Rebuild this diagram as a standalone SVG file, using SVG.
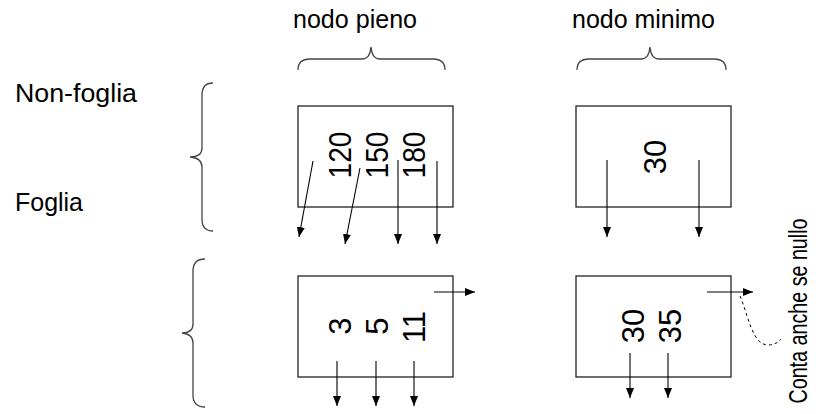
<svg xmlns="http://www.w3.org/2000/svg" width="816" height="414" viewBox="0 0 816 414">
  <style>
    .lbl { font-family: "Liberation Sans", Arial, sans-serif; font-size: 25px; fill: #000; }
    .key { font-family: "Liberation Sans", Arial, sans-serif; font-size: 31px; fill: #000; text-anchor: middle; }
    .note { font-family: "Liberation Sans", Arial, sans-serif; font-size: 25px; fill: #000; text-anchor: middle; }
    .box { fill: #fff; stroke: #222; stroke-width: 1.3; }
    .brace { fill: none; stroke: #444; stroke-width: 1.3; }
    .ptr { fill: none; stroke: #000; stroke-width: 1.1; marker-end: url(#head); }
    .dash { fill: none; stroke: #000; stroke-width: 1; stroke-dasharray: 3 3; }
  </style>
  <defs>
    <marker id="head" markerUnits="userSpaceOnUse" markerWidth="10" markerHeight="10" viewBox="0 0 10 8" refX="10" refY="4" orient="auto">
      <path d="M0,0 L10,4 L0,8 Z" fill="#000"/>
    </marker>
  </defs>

  <!-- column and row labels -->
  <g id="labels">
    <text class="lbl" x="293" y="28" textLength="124" lengthAdjust="spacingAndGlyphs">nodo pieno</text>
    <text class="lbl" x="572" y="28" textLength="143" lengthAdjust="spacingAndGlyphs">nodo minimo</text>
    <text class="lbl" x="15" y="102" textLength="122" lengthAdjust="spacingAndGlyphs">Non-foglia</text>
    <text class="lbl" x="15" y="211" textLength="68" lengthAdjust="spacingAndGlyphs">Foglia</text>
  </g>

  <!-- braces -->
  <g id="braces">
    <path class="brace" d="M298,70 Q298,59 310,59 L362,59 Q370,59 371,47 Q372,59 380,59 L433,59 Q445,59 445,70"/>
    <path class="brace" d="M577,70 Q577,59 589,59 L641,59 Q649,59 650,47 Q651,59 659,59 L714,59 Q726,59 726,70"/>
    <path class="brace" d="M213,83 Q202,83 202,95 L202,148 Q202,157 190,157 Q202,158 202,167 L202,219 Q202,231 213,231"/>
    <path class="brace" d="M205,259 Q193,259 193,271 L193,324 Q193,333 182,333 Q193,334 193,343 L193,395 Q193,407 205,407"/>
  </g>

  <!-- internal node, full -->
  <g id="node-full-internal">
    <rect class="box" x="298" y="106" width="155" height="101"/>
    <text class="key" transform="translate(351,155) rotate(-90)" textLength="47" lengthAdjust="spacingAndGlyphs">120</text>
    <text class="key" transform="translate(387.5,155) rotate(-90)" textLength="47" lengthAdjust="spacingAndGlyphs">150</text>
    <text class="key" transform="translate(424.5,155) rotate(-90)" textLength="47" lengthAdjust="spacingAndGlyphs">180</text>
  </g>

  <!-- internal node, minimal -->
  <g id="node-min-internal">
    <rect class="box" x="576" y="106" width="155" height="101"/>
    <text class="key" transform="translate(666,157) rotate(-90)">30</text>
  </g>

  <!-- leaf node, full -->
  <g id="leaf-full">
    <rect class="box" x="298" y="276" width="155" height="101"/>
    <text class="key" transform="translate(351,326) rotate(-90)">3</text>
    <text class="key" transform="translate(387.5,326) rotate(-90)">5</text>
    <text class="key" transform="translate(424.5,327) rotate(-90)">11</text>
  </g>

  <!-- leaf node, minimal -->
  <g id="leaf-min">
    <rect class="box" x="576" y="276" width="155" height="101"/>
    <text class="key" transform="translate(643.5,326) rotate(-90)">30</text>
    <text class="key" transform="translate(681,326) rotate(-90)">35</text>
  </g>

  <!-- pointers -->
  <g id="connectors">
    <path class="ptr" d="M313,161 L299,237"/>
    <path class="ptr" d="M360,168 L345,244"/>
    <path class="ptr" d="M398,160 L398,244"/>
    <path class="ptr" d="M437,161 L437,244"/>
    <path class="ptr" d="M607,160 L607,237"/>
    <path class="ptr" d="M699,160 L699,237"/>
    <path class="ptr" d="M434,292 L475,292"/>
    <path class="ptr" d="M337,361 L337,406"/>
    <path class="ptr" d="M376,361 L376,406"/>
    <path class="ptr" d="M414,361 L414,406"/>
    <path class="ptr" d="M707,292 L753,292"/>
    <path class="ptr" d="M630,353 L630,398"/>
    <path class="ptr" d="M668,353 L668,398"/>
    <path class="dash" d="M740,296 C748,314 752,345 768,345 Q776,345 781,339"/>
  </g>

  <!-- note on the sibling pointer -->
  <g id="note">
    <text class="note" transform="translate(807,311) rotate(-90)" textLength="185" lengthAdjust="spacingAndGlyphs">Conta anche se nullo</text>
  </g>
</svg>
